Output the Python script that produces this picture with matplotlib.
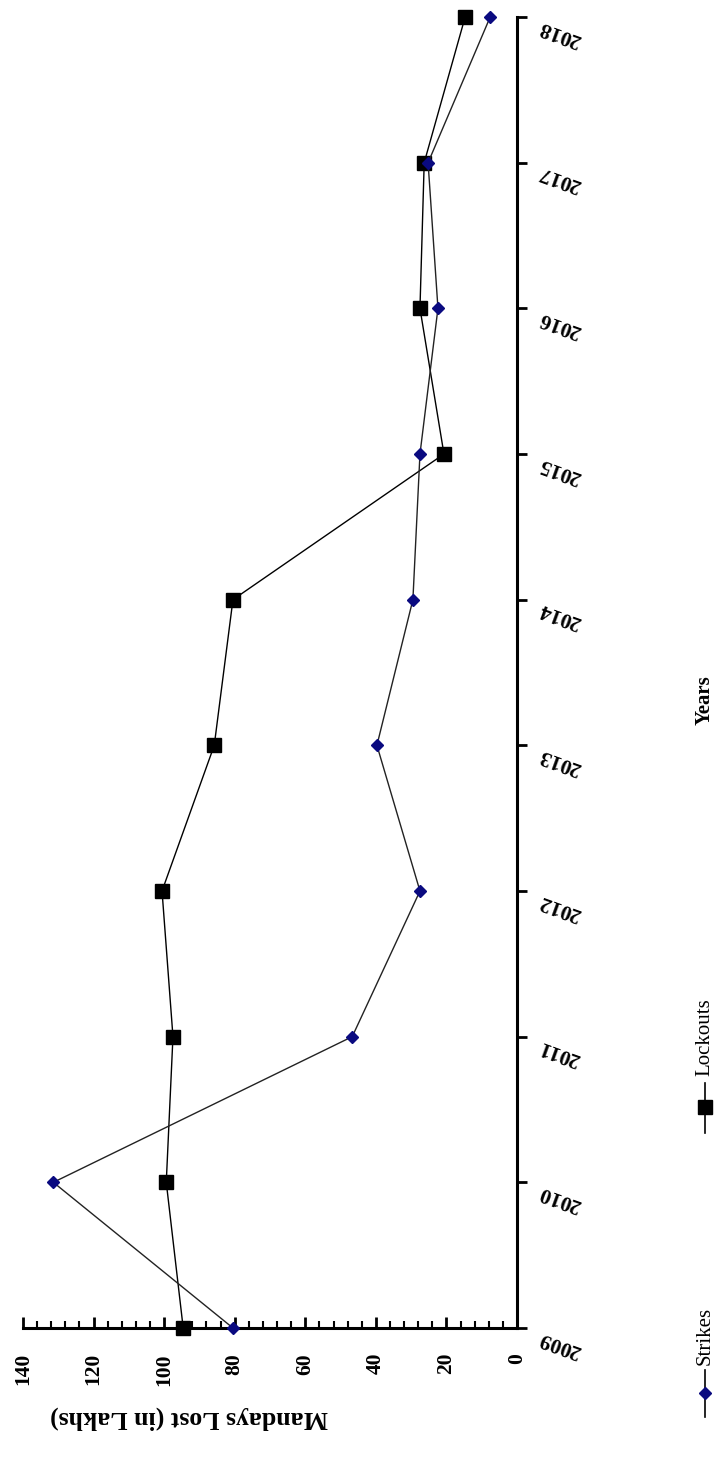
import matplotlib
matplotlib.use("Agg")
import matplotlib.pyplot as plt
from matplotlib.lines import Line2D
from matplotlib.transforms import ScaledTranslation
from matplotlib.ticker import MultipleLocator

years = [2009, 2010, 2011, 2012, 2013, 2014, 2015, 2016, 2017, 2018]
strikes = [80.5, 131.4, 46.7, 27.5, 39.7, 29.5, 27.5, 22.4, 25.2, 7.6]
lockouts = [94.6, 99.4, 97.5, 100.6, 85.8, 80.5, 20.7, 27.5, 26.3, 14.7]
value_ticks = [0, 20, 40, 60, 80, 100, 120, 140]
series_names = ["Strikes", "Lockouts"]
xlabel = "Years"
ylabel = "Mandays Lost (in Lakhs)"

W, H = 715, 1468
DPI = 100
plt.rcParams['font.family'] = ['Liberation Serif', 'DejaVu Serif']
fig = plt.figure(figsize=(W / DPI, H / DPI), dpi=DPI)

def fx(px):
    return px / W

def fy(py):
    return 1 - py / H

ax_l, ax_r, ax_t, ax_b = 23, 517, 17, 1328
ax = fig.add_axes([fx(ax_l), fy(ax_b), (ax_r - ax_l) / W, (ax_b - ax_t) / H])

# rotated chart: values along horizontal (inverted), years along vertical
ax.plot(lockouts, years, color='black', lw=1.0, marker='s', markersize=10,
        markerfacecolor='black', markeredgecolor='black', clip_on=False, zorder=3)
ax.plot(strikes, years, color='#222222', lw=1.0, marker='D', markersize=6.5,
        markerfacecolor='#0a0a80', markeredgecolor='#0a0a80', clip_on=False, zorder=4)

ax.set_xlim(140, 0)
ax.set_ylim(2009, 2018)

for s in ['left', 'top']:
    ax.spines[s].set_visible(False)
for s in ['right', 'bottom']:
    ax.spines[s].set_linewidth(2.2)

ax.yaxis.tick_right()
ax.set_yticks(years)
ax.set_yticklabels([str(y) for y in years], rotation=160, ha='center', va='center',
                   fontsize=15.5, fontweight='bold')
ax.tick_params(axis='y', direction='out', length=7, width=2, pad=24)
for lab in ax.get_yticklabels():
    lab.set_transform(lab.get_transform() + ScaledTranslation(0, -0.16, fig.dpi_scale_trans))

ax.set_xticks(value_ticks)
ax.set_xticklabels([str(v) for v in value_ticks], rotation=90, fontsize=15.5,
                   fontweight='bold', va='top', ha='center')
ax.xaxis.set_minor_locator(MultipleLocator(4))
ax.tick_params(axis='x', which='major', direction='in', length=8, width=2, pad=18)
ax.tick_params(axis='x', which='minor', direction='in', length=5, width=1.5)

fig.text(fx(189), fy(1418), ylabel, rotation=180, ha='center', va='center',
         fontsize=18.5, fontweight='bold')
fig.text(fx(705), fy(700), xlabel, rotation=90, ha='center', va='center',
         fontsize=15, fontweight='bold')

# legend (rotated)
leg = [
    (series_names[1], 's', 'black', 1083, 1133, 1107, 1037, 10),
    (series_names[0], 'D', '#0a0a80', 1370, 1417, 1393, 1336, 6.5),
]
for name, mk, col, y0, y1, ym, yt, ms in leg:
    fig.add_artist(Line2D([fx(705), fx(705)], [fy(y0), fy(y1)], color='black', lw=1.2))
    fig.add_artist(Line2D([fx(705)], [fy(ym)], marker=mk, markersize=ms,
                          markerfacecolor=col, markeredgecolor=col, lw=0))
    fig.text(fx(705), fy(yt), name, rotation=90, ha='center', va='center', fontsize=15)

fig.savefig("out.png", dpi=DPI, facecolor='white')
